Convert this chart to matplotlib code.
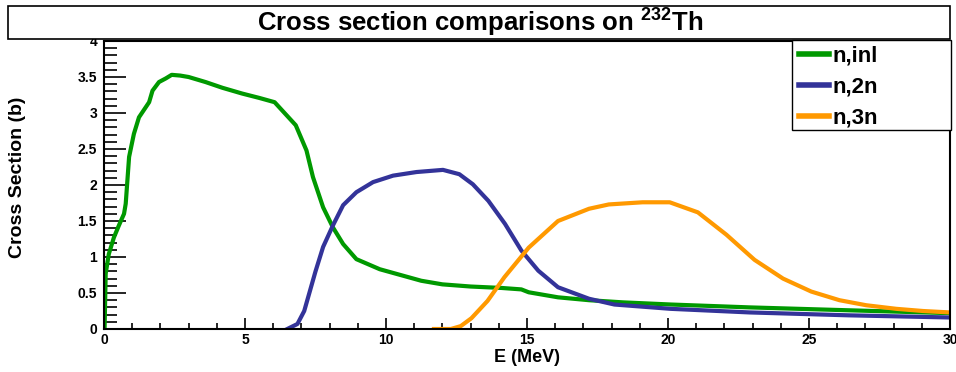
import numpy as np
import matplotlib
matplotlib.use("Agg")
import matplotlib.pyplot as plt
from matplotlib.patches import Rectangle
from matplotlib.ticker import MultipleLocator

plt.rcParams['font.family'] = ['Liberation Sans', 'DejaVu Sans']
plt.rcParams['font.weight'] = 'bold'
plt.rcParams['mathtext.fontset'] = 'custom'
plt.rcParams['mathtext.rm'] = 'Liberation Sans:bold'
plt.rcParams['mathtext.bf'] = 'Liberation Sans:bold'

# ---------------- data ----------------
# n,inl
E_inl = [0.02, 0.06, 0.17, 0.35, 0.53, 0.71, 0.77, 0.89, 1.06, 1.24, 1.48, 1.6,
         1.72, 1.95, 2.19, 2.4, 2.7, 3.0, 3.6, 4.2, 4.9, 5.5, 6.05, 6.8, 7.18,
         7.41, 7.77, 8.12, 8.48, 8.95, 9.78, 11.25, 12.0, 13.0, 14.1, 14.8,
         15.06, 16.1, 17.2, 18.4, 20.1, 22.9, 26.4, 30.0]
xs_inl = [0.0, 0.77, 1.04, 1.27, 1.44, 1.6, 1.74, 2.39, 2.71, 2.94, 3.08, 3.15,
          3.31, 3.43, 3.48, 3.53, 3.52, 3.5, 3.43, 3.35, 3.27, 3.21, 3.15, 2.83,
          2.48, 2.11, 1.69, 1.41, 1.18, 0.97, 0.83, 0.67, 0.62, 0.59, 0.57, 0.55,
          0.51, 0.44, 0.40, 0.37, 0.34, 0.30, 0.26, 0.22]

# n,2n
E_2n = [6.5, 6.86, 7.1, 7.5, 7.77, 8.12, 8.48, 8.95, 9.54, 10.25, 11.08, 12.02,
        12.6, 13.08, 13.63, 14.22, 14.8, 15.4, 16.1, 17.2, 18.1, 20.1, 22.9,
        26.4, 30.0]
xs_2n = [0.0, 0.07, 0.25, 0.8, 1.14, 1.44, 1.72, 1.9, 2.04, 2.13, 2.18, 2.21,
         2.15, 2.01, 1.78, 1.46, 1.09, 0.81, 0.58, 0.42, 0.34, 0.28, 0.23, 0.19,
         0.16]

# n,3n
E_3n = [11.7, 12.3, 12.65, 13.03, 13.6, 14.2, 15.06, 16.1, 17.2, 17.9, 19.1,
        20.06, 21.06, 22.07, 23.07, 24.08, 25.08, 26.08, 27.03, 28.1, 29.04, 30.0]
xs_3n = [0.0, 0.0, 0.04, 0.15, 0.39, 0.72, 1.13, 1.5, 1.67, 1.73, 1.76, 1.76,
         1.62, 1.31, 0.96, 0.70, 0.52, 0.40, 0.33, 0.28, 0.25, 0.23]

labels = ['n,inl', 'n,2n', 'n,3n']
colors = ['#009900', '#333399', '#ff9900']

# ---------------- figure ----------------
W, H = 956, 372
fig = plt.figure(figsize=(W / 100, H / 100), dpi=100)
ax = fig.add_axes([104 / W, 1 - 329 / H, (950 - 104) / W, (329 - 41) / H])

for E, xs, lab, c in zip([E_inl, E_2n, E_3n], [xs_inl, xs_2n, xs_3n], labels, colors):
    ax.plot(E, xs, color=c, lw=3.0, label=lab, solid_joinstyle='round')

ax.set_xlim(0, 30)
ax.set_ylim(0, 4)
ax.xaxis.set_major_locator(MultipleLocator(5))
ax.xaxis.set_minor_locator(MultipleLocator(1))
ax.yaxis.set_major_locator(MultipleLocator(0.5))
ax.yaxis.set_minor_locator(MultipleLocator(0.1))
ax.yaxis.set_major_formatter(matplotlib.ticker.FuncFormatter(lambda v, p: f"{v:g}"))

ax.tick_params(axis='x', which='major', direction='in', length=8, width=1.2,
               labelsize=10, pad=3)
ax.tick_params(axis='x', which='minor', direction='in', length=4, width=1.2)
ax.tick_params(axis='y', which='major', direction='in', length=16, width=1.2,
               labelsize=10, pad=5)
ax.tick_params(axis='y', which='minor', direction='in', length=9, width=1.2)
for sp in ax.spines.values():
    sp.set_linewidth(1.5)

# axis titles placed where the reference has them
fig.text(527 / W, 1 - 357 / H, 'E (MeV)', ha='center', va='center',
         fontsize=13, fontweight='bold')
fig.text(18 / W, 1 - 177 / H, 'Cross Section (b)', ha='center', va='center',
         rotation=90, fontsize=14, fontweight='bold')

# title box (ROOT style)
fig.patches.append(Rectangle((8 / W, 1 - 39 / H), (950 - 8) / W, 33 / H,
                             transform=fig.transFigure, facecolor='white',
                             edgecolor='black', lw=1.2, zorder=5))
fig.text(480 / W, 1 - 22 / H, r'Cross section comparisons on $^{\mathbf{232}}$Th',
         ha='center', va='center', fontsize=18.5, fontweight='bold', zorder=6)

# legend box (fixed size like ROOT's TLegend)
fig.patches.append(Rectangle((792 / W, 1 - 130 / H), (951 - 792) / W, 90 / H,
                             transform=fig.transFigure, facecolor='white',
                             edgecolor='black', lw=1.0, zorder=5))
leg = fig.legend(*ax.get_legend_handles_labels(), loc='upper left',
                 bbox_to_anchor=(795 / W, 1 - 41 / H), frameon=False,
                 borderaxespad=0, prop={'size': 16, 'weight': 'bold'},
                 handlelength=1.35, handletextpad=0.15, labelspacing=0.45,
                 borderpad=0.2)
leg.set_zorder(6)
for h in leg.legend_handles:
    h.set_linewidth(4)

fig.savefig('out.png', dpi=100)
